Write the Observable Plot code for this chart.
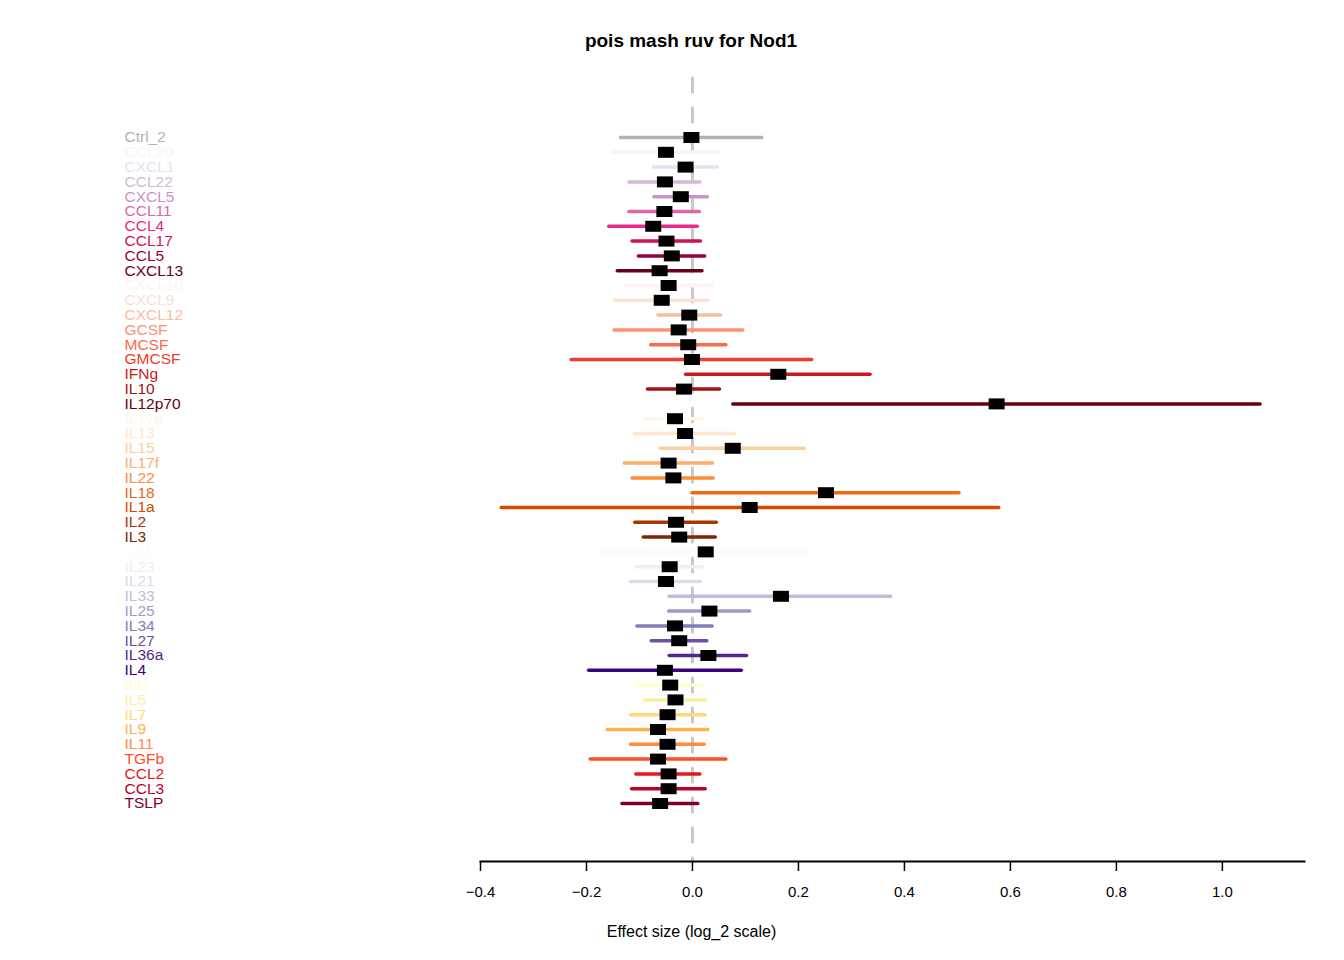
<!DOCTYPE html>
<html>
<head>
<meta charset="utf-8">
<script src="https://cdn.jsdelivr.net/npm/d3@7"></script>
<script src="https://cdn.jsdelivr.net/npm/@observablehq/plot@0.6"></script>
<style>
  html, body { margin: 0; padding: 0; background: #fff; }
  #wrap { position: relative; width: 1344px; height: 960px; }
  #title { position: absolute; left: 0; top: 30px; width: 1382px; text-align: center;
           font: bold 19px "Liberation Sans", Arial, sans-serif; color: #000; }
</style>
</head>
<body>
<div id="wrap">
  <div id="title">pois mash ruv for Nod1</div>
  <div id="chart"></div>
</div>
<script>
const labels = ["Ctrl_2","CCL20","CXCL1","CCL22","CXCL5","CCL11","CCL4","CCL17","CCL5","CXCL13",
  "CXCL10","CXCL9","CXCL12","GCSF","MCSF","GMCSF","IFNg","IL10","IL12p70",
  "IL17a","IL13","IL15","IL17f","IL22","IL18","IL1a","IL2","IL3",
  "IL1b","IL23","IL21","IL33","IL25","IL34","IL27","IL36a","IL4",
  "IL6","IL5","IL7","IL9","IL11","TGFb","CCL2","CCL3","TSLP"];
const estimate = [-0.002,-0.050,-0.013,-0.052,-0.022,-0.053,-0.074,-0.049,-0.039,-0.062,
  -0.045,-0.058,-0.006,-0.026,-0.008,-0.001,0.162,-0.016,0.574,
  -0.033,-0.014,0.076,-0.045,-0.036,0.252,0.108,-0.031,-0.025,
  0.025,-0.043,-0.050,0.167,0.032,-0.033,-0.025,0.030,-0.052,
  -0.042,-0.032,-0.047,-0.065,-0.047,-0.065,-0.045,-0.045,-0.061];
const lower = [-0.135,-0.150,-0.073,-0.119,-0.072,-0.119,-0.157,-0.113,-0.101,-0.141,
  -0.127,-0.146,-0.064,-0.147,-0.078,-0.228,-0.012,-0.084,0.077,
  -0.088,-0.108,-0.060,-0.128,-0.113,0.000,-0.360,-0.108,-0.092,
  -0.172,-0.105,-0.116,-0.043,-0.044,-0.104,-0.077,-0.043,-0.195,
  -0.102,-0.089,-0.116,-0.160,-0.116,-0.192,-0.106,-0.114,-0.132];
const upper = [0.132,0.050,0.048,0.015,0.029,0.014,0.010,0.016,0.024,0.019,
  0.038,0.030,0.054,0.096,0.064,0.226,0.336,0.052,1.072,
  0.020,0.081,0.212,0.039,0.040,0.504,0.579,0.046,0.044,
  0.219,0.019,0.016,0.375,0.109,0.038,0.028,0.103,0.093,
  0.019,0.025,0.025,0.030,0.023,0.064,0.015,0.025,0.011];
const xTicks = [-0.4,-0.2,0.0,0.2,0.4,0.6,0.8,1.0];
const xLabel = "Effect size (log_2 scale)";

// colour groups: control grey, then five 9-step palettes
const palette = ["#b3b3b3"].concat(
  d3.schemePuRd[9], d3.schemeReds[9], d3.schemeOranges[9], d3.schemePurples[9], d3.schemeYlOrRd[9]);

const rows = labels.map((name, i) => ({name, est: estimate[i], lo: lower[i], hi: upper[i]}));

const box = { draw(ctx) { ctx.rect(-8, -5.5, 16, 11); } };

const chart = Plot.plot({
  width: 1344,
  height: 960,
  marginLeft: 480,
  marginRight: 40,
  marginTop: 78,
  marginBottom: 99,
  style: {fontFamily: "'Liberation Sans', Arial, sans-serif", fontSize: "15px", background: "#fff", color: "#000"},
  x: {domain: [-0.4, 1.155], axis: null},
  y: {type: "point", domain: labels, range: [137, 803], padding: 0, axis: null},
  color: {type: "ordinal", domain: labels, range: palette},
  marks: [
    Plot.ruleX([0], {stroke: "#c8c8c8", strokeWidth: 3, strokeDasharray: "14,16", strokeLinecap: "round"}),
    Plot.ruleY(rows, {y: "name", x1: "lo", x2: "hi", stroke: "name", strokeWidth: 3.5, strokeLinecap: "round"}),
    Plot.dot(rows, {x: "est", y: "name", symbol: box, fill: "#000", stroke: "none"}),
    Plot.text(rows, {y: "name", text: "name", fill: "name", frameAnchor: "left", textAnchor: "start", dx: -356, fontSize: 15.5}),
    Plot.frame({anchor: "bottom", stroke: "#000", strokeWidth: 2}),
    Plot.axisX({ticks: xTicks, tickFormat: d3.format(".1f"), tickSize: 10, tickPadding: 15, strokeWidth: 1.5, fontSize: 15, label: null}),
    Plot.text([xLabel], {text: d => d, frameAnchor: "bottom", dy: 75, dx: -201, fontSize: 16})
  ]
});
document.getElementById("chart").appendChild(chart);
</script>
</body>
</html>
